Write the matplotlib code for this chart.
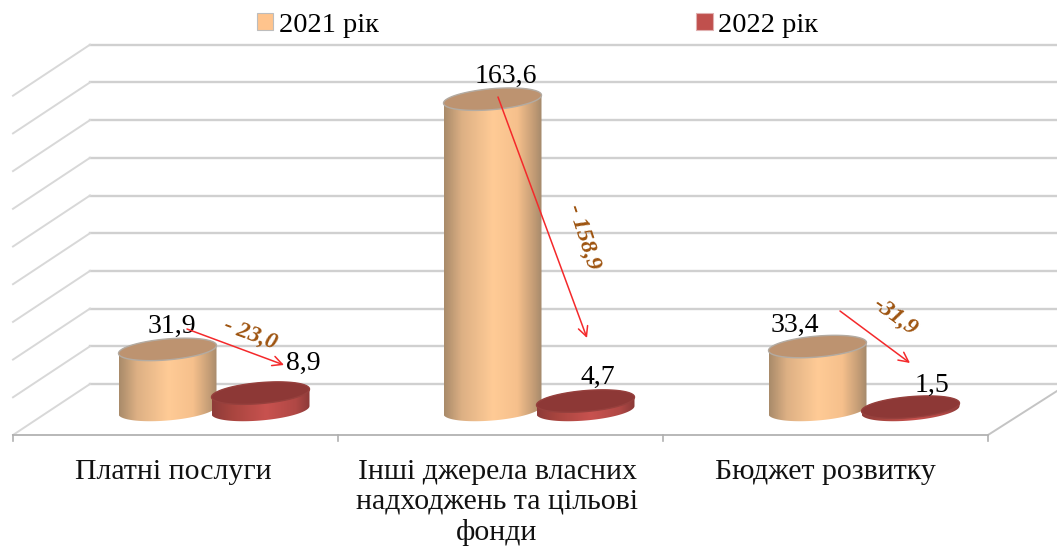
import numpy as np
import matplotlib
matplotlib.use("Agg")
import matplotlib.pyplot as plt
from matplotlib.colors import LinearSegmentedColormap
from matplotlib.patches import Polygon, Patch

plt.rcParams['font.family'] = ['Liberation Serif', 'DejaVu Serif']

categories = ["Платні послуги", "Інші джерела власних\nнадходжень та цільові\nфонди", "Бюджет розвитку"]
series_names = ["2021 рік", "2022 рік"]
values_2021 = [31.9, 163.6, 33.4]
values_2022 = [8.9, 4.7, 1.5]
label_2021 = ["31,9", "163,6", "33,4"]
label_2022 = ["8,9", "4,7", "1,5"]
changes = ["- 23,0", "- 158,9", "-31,9"]
grid_values = [0, 20, 40, 60, 80, 100, 120, 140, 160, 180]

W, H = 1057, 547
CAT_PX, CAT0_PX = 325.0, 175.5
ZERO_PY, V_PX = 410.0, 1.9


def X(px):
    return (px - CAT0_PX) / CAT_PX


def Y(py):
    return (ZERO_PY - py) / V_PX


fig = plt.figure(figsize=(W / 100, H / 100), dpi=100, facecolor='white')
ax = fig.add_axes([0, 0, 1, 1])
xlim, ylim = (X(0), X(W)), (Y(H), Y(0))
ax.axis('off')

# 3D frame
FRONT_L, FRONT_R, BACK_L = 13, 988, 90
FLOOR_FRONT, WALL_BASE = 435, 384
for g in grid_values:
    py = WALL_BASE - g * 37.7 / 20
    ax.plot([X(BACK_L), X(W)], [Y(py), Y(py)], color='#d0d0d0', lw=1.7, zorder=1)
    ax.plot([X(FRONT_L), X(BACK_L)], [Y(py + 51), Y(py)], color='#d8d8d8', lw=1.4, zorder=1)
ax.plot([X(FRONT_L), X(FRONT_R)], [Y(FLOOR_FRONT)] * 2, color='#b8b8b8', lw=1.4, zorder=1)
ax.plot([X(FRONT_R), X(W)], [Y(FLOOR_FRONT), Y(FLOOR_FRONT - 44)], color='#c4c4c4', lw=1.4, zorder=1)
for i in range(4):
    px = FRONT_L + i * CAT_PX
    ax.plot([X(px), X(px)], [Y(FLOOR_FRONT), Y(FLOOR_FRONT + 6)], color='#b0b0b0', lw=1.2, zorder=1)

cm_orange = LinearSegmentedColormap.from_list('o', [(0, '#A98B6A'), (.18, '#DDB084'), (.5, '#FFCB96'),
                                                    (.75, '#F6C08C'), (.93, '#C09A74'), (1, '#A58A6C')])
cm_red = LinearSegmentedColormap.from_list('r', [(0, '#8E3B39'), (.2, '#A8453F'), (.55, '#C8524F'),
                                                 (.85, '#B04845'), (1, '#8A3A38')])
A, B, K = 49.0, 10.5, 4.0
t = np.linspace(0, 2 * np.pi, 121)
grad = np.linspace(0, 1, 200)[None, :]


def cylinder(cat, off_px, value, cmap, top_col, edge_col, z):
    cx = CAT0_PX + cat * CAT_PX + off_px
    ax.bar(X(cx), value, width=1.8 * A / CAT_PX, color=top_col, lw=0, zorder=z)
    low = np.linspace(np.pi, 2 * np.pi, 60)
    xs = cx + A * np.cos(low)
    ys_base = (K * np.cos(low) + B * np.sin(low)) / V_PX
    up = np.linspace(0, np.pi, 60)
    xs_top = cx + A * np.cos(up)
    ys_top = value + (K * np.cos(up) + B * np.sin(up)) / V_PX
    pts = np.r_[np.c_[X(xs), ys_base], np.c_[X(xs_top), ys_top]]
    clip = Polygon(pts, closed=True, fc='none', ec='none', transform=ax.transData, zorder=z)
    ax.add_patch(clip)
    im = ax.imshow(grad, cmap=cmap, extent=(X(cx - A), X(cx + A), -20, value + 20),
                   aspect='auto', zorder=z + .1, interpolation='bilinear')
    im.set_clip_path(clip)
    ex, ey = cx + A * np.cos(t), value + (K * np.cos(t) + B * np.sin(t)) / V_PX
    ax.add_patch(Polygon(np.c_[X(ex), ey], closed=True, fc=top_col, ec=edge_col, lw=1.0, zorder=z + .2))


for i in range(3):
    cylinder(i, -8, values_2021[i], cm_orange, '#BD9370', '#B3ABA2', 3 + i * 2)
    cylinder(i, 85, values_2022[i], cm_red, '#8D3836', '#96403D', 4 + i * 2)
ax.set_xlim(*xlim)
ax.set_ylim(*ylim)

FS = 20
lab_pos_21 = [(172, 333), (506, 83), (795, 332)]
lab_pos_22 = [(303, 370), (598, 384), (932, 392)]
for s, (px, py) in zip(label_2021, lab_pos_21):
    ax.text(X(px), Y(py), s, ha='center', va='baseline', fontsize=FS, color='black', zorder=20)
for s, (px, py) in zip(label_2022, lab_pos_22):
    ax.text(X(px), Y(py), s, ha='center', va='baseline', fontsize=FS, color='black', zorder=20)

# change arrows and their labels
arrows = [((187, 329), (284, 365)), ((498, 97), (587, 338)), ((840, 311), (910, 363))]
for (p0, p1) in arrows:
    ax.annotate('', xy=(X(p1[0]), Y(p1[1])), xytext=(X(p0[0]), Y(p0[1])), zorder=21,
                arrowprops=dict(arrowstyle='->,head_length=0.7,head_width=0.35', color='#F4292B', lw=1.1,
                                shrinkA=0, shrinkB=0))
change_pos = [(250, 334, -20), (583, 237, -72), (895, 317, -36)]
for s, (px, py, rot) in zip(changes, change_pos):
    ax.text(X(px), Y(py), s, ha='center', va='center', rotation=rot, rotation_mode='anchor',
            fontsize=17, fontweight='bold', fontstyle='italic', color='#9E5410', zorder=22)

# category labels
cat_off = [-2.5, -3.5, -0.5]
for i, s in enumerate(categories):
    ax.text(i + cat_off[i] / CAT_PX, Y(459), s, ha='center', va='top',
            fontsize=21.5, linespacing=1.2, color='#111111', zorder=20)

handles = [Patch(fc='#FFC48D', ec='#BDBDBD', lw=.8), Patch(fc='#C0504D', ec='#E0B0B0', lw=.8)]
fig.legend(handles, series_names, ncol=2, loc='center', bbox_to_anchor=(537.5 / W, 1 - 25 / H), frameon=False,
           fontsize=20.5, handlelength=.58, handleheight=.58, handletextpad=.2, columnspacing=11.14,
           borderpad=0, labelcolor='black')

fig.savefig('out.png', dpi=100)
